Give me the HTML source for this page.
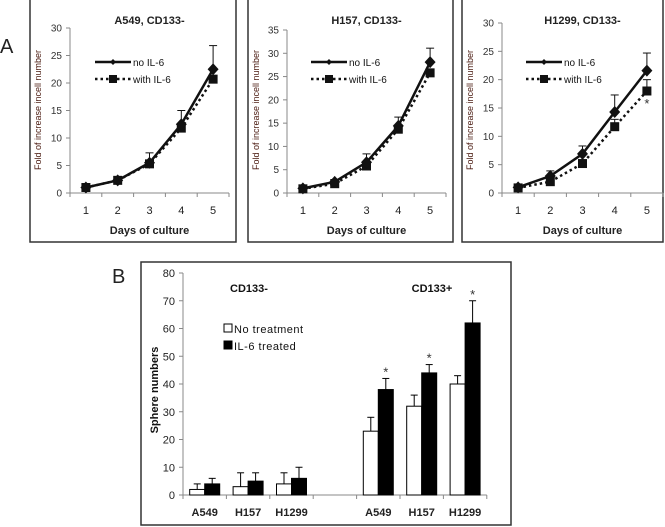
<!DOCTYPE html>
<html><head><meta charset="utf-8"><style>
body{margin:0;background:#fff;}
svg{display:block;font-family:"Liberation Sans",sans-serif;}
</style></head><body>
<svg id="fig" width="665" height="527" viewBox="0 0 665 527"></svg>
<script>
const days = ['1','2','3','4','5'];
const a549No = [1, 2.3, 5.5, 12.5, 22.5];
const a549NoErr = [0.3, 0.4, 1.8, 2.5, 4.3];
const a549Il6 = [1, 2.3, 5.3, 11.8, 20.7];
const h157No = [1, 2.4, 6.6, 14.4, 28.1];
const h157NoErr = [0.3, 0.5, 1.8, 1.9, 3];
const h157Il6 = [0.9, 2, 5.8, 13.7, 25.8];
const h1299No = [1, 3, 6.9, 14.3, 21.6];
const h1299NoErr = [0.2, 0.9, 1.4, 3, 3.1];
const h1299Il6 = [0.9, 2, 5.2, 11.7, 18];
const h1299Il6Err = [0, 0, 0, 1.3, 2];
const sphereCats = ['A549','H157','H1299','','A549','H157','H1299'];
const sphereNo = [2, 3, 4, null, 23, 32, 40];
const sphereNoErr = [2, 5, 4, null, 5, 4, 3];
const sphereIl6 = [4, 5, 6, null, 38, 44, 62];
const sphereIl6Err = [2, 3, 4, null, 4, 3, 8];
const sphereSig = [false, false, false, false, true, true, true];

const NS = 'http://www.w3.org/2000/svg';
const svg = document.getElementById('fig');
function mk(tag, attrs, parent, text) {
  const e = document.createElementNS(NS, tag);
  for (const k in attrs) e.setAttribute(k, attrs[k]);
  if (text !== undefined) e.textContent = text;
  (parent || svg).appendChild(e);
  return e;
}

function linePanel(o) {
  const g = mk('g', {});
  
  
  const fr = mk('rect', {x: o.fx, y: -2, width: o.fw, height: 244, fill: 'none', stroke: '#333', 'stroke-width': 1.5}, g);
  
  
  const y0 = 193, yTop = o.yTop;
  const ys = v => y0 - (v / o.yMax) * (y0 - yTop);
  const bw = o.bw, ax = o.ax;
  const xs = i => ax + bw * (i + 0.5);
  mk('line', {x1: ax, y1: yTop, x2: ax, y2: y0, stroke: '#888'}, g);
  mk('line', {x1: ax, y1: y0, x2: ax + bw * 5, y2: y0, stroke: '#888'}, g);
  for (let v = 0; v <= o.yMax; v += 5) {
    mk('line', {x1: ax - 4, y1: ys(v), x2: ax, y2: ys(v), stroke: '#888'}, g);
    const t = mk('text', {x: ax - 8, y: ys(v) + 3.5, 'font-size': 10, 'text-anchor': 'end', fill: '#333'}, g, String(v));
    
    
  }
  for (let i = 0; i <= 5; i++) mk('line', {x1: ax + bw * i, y1: y0, x2: ax + bw * i, y2: y0 + 4, stroke: '#888'}, g);
  days.forEach((d, i) => {
    const t = mk('text', {x: xs(i), y: 214, 'font-size': 11, 'text-anchor': 'middle', fill: '#222'}, g, d);
    
    
  });
  const xt = mk('text', {x: ax + bw * 2.5, y: 234, 'font-size': 11, 'font-weight': 'bold', 'text-anchor': 'middle', fill: '#222'}, g, 'Days  of culture');
  
  
  const yt = mk('text', {x: 0, y: 0, 'font-size': 9, 'text-anchor': 'middle', fill: '#4a1a10', transform: `translate(${o.fx + 11},110) rotate(-90)`}, g, 'Fold of increase incell number');
  
  
  const tt = mk('text', {x: ax + bw * 2.5, y: 24, 'font-size': 11, 'font-weight': 'bold', 'text-anchor': 'middle', fill: '#222'}, g, o.title);
  
  
  // error bars
  o.noErr.forEach((e, i) => {
    if (!e) return;
    const x = xs(i), yv = ys(o.no[i]), yt2 = ys(o.no[i] + e);
    mk('line', {x1: x, y1: yv, x2: x, y2: yt2, stroke: '#111', 'stroke-width': 1}, g);
    mk('line', {x1: x - 4, y1: yt2, x2: x + 4, y2: yt2, stroke: '#111', 'stroke-width': 1}, g);
  });
  if (o.il6Err) o.il6Err.forEach((e, i) => {
    if (!e) return;
    const x = xs(i), yv = ys(o.il6[i]), yt2 = ys(o.il6[i] + e);
    mk('line', {x1: x, y1: yv, x2: x, y2: yt2, stroke: '#111'}, g);
    mk('line', {x1: x - 4, y1: yt2, x2: x + 4, y2: yt2, stroke: '#111'}, g);
  });
  const p2 = mk('polyline', {points: o.il6.map((v, i) => xs(i) + ',' + ys(v)).join(' '), fill: 'none', stroke: '#111', 'stroke-width': 2.5, 'stroke-dasharray': '2.5,3'}, g);
  
  
  o.il6.forEach((v, i) => {
    const r = mk('rect', {x: xs(i) - 4.5, y: ys(v) - 4.5, width: 9, height: 9, fill: '#111'}, g);
    
    
  });
  const p1 = mk('polyline', {points: o.no.map((v, i) => xs(i) + ',' + ys(v)).join(' '), fill: 'none', stroke: '#111', 'stroke-width': 2.5}, g);
  
  
  o.no.forEach((v, i) => {
    const x = xs(i), y = ys(v);
    const d = mk('polygon', {points: `${x},${y - 6} ${x + 5.5},${y} ${x},${y + 6} ${x - 5.5},${y}`, fill: '#111'}, g);
    
    
  });
  if (o.star) {
    const s = mk('text', {x: xs(4), y: ys(o.il6[4]) + 17, 'font-size': 13, 'text-anchor': 'middle', fill: '#333'}, g, '*');
    
    
  }
  // legend
  const lg = mk('g', {}, g);
  
  
  const lx = o.lx;
  mk('line', {x1: lx, y1: 62, x2: lx + 36, y2: 62, stroke: '#111', 'stroke-width': 2.5}, lg);
  mk('polygon', {points: `${lx + 18},59 ${lx + 21},62 ${lx + 18},65 ${lx + 15},62`, fill: '#111'}, lg);
  mk('text', {x: lx + 38, y: 66, 'font-size': 10, fill: '#111'}, lg, 'no IL-6');
  mk('line', {x1: lx, y1: 79, x2: lx + 36, y2: 79, stroke: '#111', 'stroke-width': 2.5, 'stroke-dasharray': '2.5,3'}, lg);
  mk('rect', {x: lx + 14, y: 75, width: 8, height: 8, fill: '#111'}, lg);
  mk('text', {x: lx + 38, y: 83, 'font-size': 10, fill: '#111'}, lg, 'with IL-6');
}

const la = mk('text', {x: 0, y: 53, 'font-size': 20, fill: '#222'}, svg, 'A');


linePanel({name: 'a549-growth-chart', fx: 30, fw: 206, ax: 70, bw: 31.8, yMax: 30, yTop: 28, title: 'A549, CD133-', no: a549No, noErr: a549NoErr, il6: a549Il6, lx: 95});
linePanel({name: 'h157-growth-chart', fx: 248, fw: 205, ax: 287, bw: 31.8, yMax: 35, yTop: 30, title: 'H157, CD133-', no: h157No, noErr: h157NoErr, il6: h157Il6, lx: 311});
linePanel({name: 'h1299-growth-chart', fx: 462, fw: 201, ax: 502, bw: 32.2, yMax: 30, yTop: 23, title: 'H1299, CD133-', no: h1299No, noErr: h1299NoErr, il6: h1299Il6, il6Err: h1299Il6Err, star: true, lx: 526});

// Panel B
const lb = mk('text', {x: 112, y: 283, 'font-size': 20, fill: '#222'}, svg, 'B');


const gb = mk('g', {});


const bfr = mk('rect', {x: 141, y: 262, width: 370, height: 263, fill: 'none', stroke: '#333', 'stroke-width': 1.5}, gb);


const by0 = 495, byTop = 273, bMax = 80, bax = 183, slot = 43.4;
const bys = v => by0 - v / bMax * (by0 - byTop);
const bxs = i => bax + slot * (i + 0.5);
mk('line', {x1: bax, y1: byTop, x2: bax, y2: by0, stroke: '#888'}, gb);
mk('line', {x1: bax, y1: by0, x2: bax + slot * 7, y2: by0, stroke: '#888'}, gb);
for (let v = 0; v <= bMax; v += 10) {
  mk('line', {x1: bax - 4, y1: bys(v), x2: bax, y2: bys(v), stroke: '#888'}, gb);
  const t = mk('text', {x: bax - 8, y: bys(v) + 4, 'font-size': 11, 'text-anchor': 'end', fill: '#222'}, gb, String(v));
  
  
}
for (let i = 0; i <= 7; i++) mk('line', {x1: bax + slot * i, y1: by0, x2: bax + slot * i, y2: by0 + 4, stroke: '#888'}, gb);
sphereCats.forEach((c, i) => {
  const t = mk('text', {x: bxs(i), y: 516, 'font-size': 11, 'font-weight': 'bold', 'text-anchor': 'middle', fill: '#222'}, gb, c);
  
  
});
const bw2 = 15;
sphereCats.forEach((c, i) => {
  if (sphereNo[i] === null) return;
  const x = bxs(i);
  [[sphereNo, sphereNoErr, '#fff', x - bw2, 'no-treatment-bar'], [sphereIl6, sphereIl6Err, '#000', x, 'il6-treated-bar']].forEach(([vals, errs, fill, bx, nm]) => {
    const v = vals[i];
    const r = mk('rect', {x: bx, y: bys(v), width: bw2, height: by0 - bys(v), fill: fill, stroke: '#000', 'stroke-width': 1}, gb);
    
    
    const cx = bx + bw2 / 2, et = bys(v + errs[i]);
    mk('line', {x1: cx, y1: bys(v), x2: cx, y2: et, stroke: '#000'}, gb);
    mk('line', {x1: cx - 3.5, y1: et, x2: cx + 3.5, y2: et, stroke: '#000'}, gb);
  });
  if (sphereSig[i]) {
    const s = mk('text', {x: x + bw2 / 2, y: bys(sphereIl6[i] + sphereIl6Err[i]) - 2, 'font-size': 13, 'text-anchor': 'middle', fill: '#333'}, gb, '*');
    
    
  }
});
const byt = mk('text', {x: 0, y: 0, 'font-size': 11, 'font-weight': 'bold', 'text-anchor': 'middle', fill: '#111', transform: 'translate(158,390) rotate(-90)'}, gb, 'Sphere numbers');


const g1 = mk('text', {x: 249, y: 292, 'font-size': 11, 'font-weight': 'bold', 'text-anchor': 'middle', fill: '#111'}, gb, 'CD133-');


const g2 = mk('text', {x: 432, y: 292, 'font-size': 11, 'font-weight': 'bold', 'text-anchor': 'middle', fill: '#111'}, gb, 'CD133+');


const bl = mk('g', {}, gb);


mk('rect', {x: 224, y: 324, width: 8, height: 8, fill: '#fff', stroke: '#000'}, bl);
mk('text', {x: 234, y: 333, 'font-size': 11, fill: '#111', 'letter-spacing': '0.5'}, bl, 'No treatment');
mk('rect', {x: 224, y: 341, width: 8, height: 8, fill: '#000', stroke: '#000'}, bl);
mk('text', {x: 234, y: 350, 'font-size': 11, fill: '#111', 'letter-spacing': '0.5'}, bl, 'IL-6 treated');
</script>
</body></html>
